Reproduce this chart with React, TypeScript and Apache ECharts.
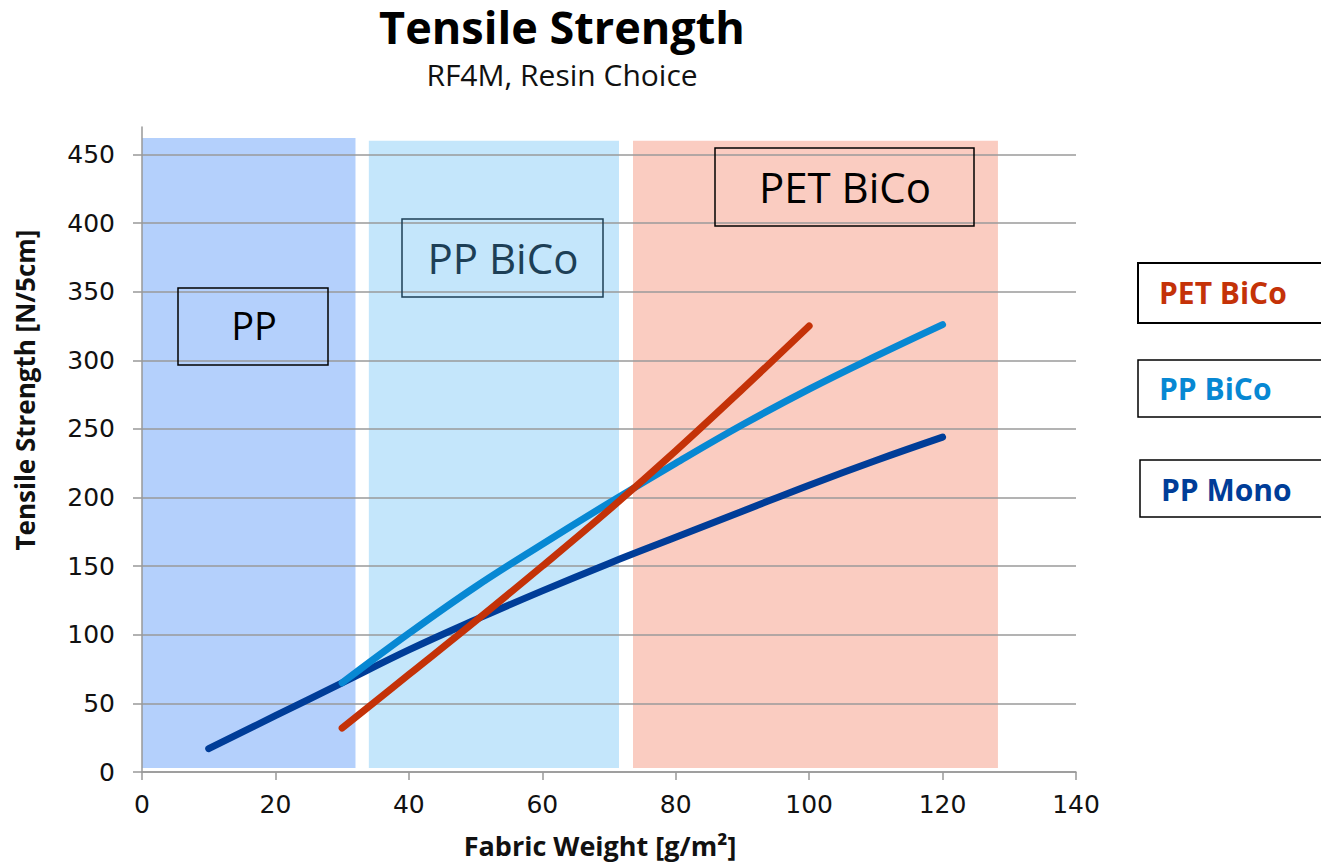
import React, { useEffect, useRef } from "react";
import * as echarts from "echarts";

// ---- data ----
const yTickValues = [0, 50, 100, 150, 200, 250, 300, 350, 400, 450];

const ppMonoX = [10, 20, 30, 40, 50, 60, 70, 80, 90, 100, 110, 120];
const ppMonoY = [17, 41, 65, 89, 111, 132, 152, 171, 190, 209, 227, 244];

const ppBicoX = [30, 40, 50, 60, 70, 80, 90, 100, 110, 120];
const ppBicoY = [65, 101, 135, 166, 196, 225, 253, 279, 303, 326];

const petBicoX = [30, 40, 50, 60, 70, 80, 90, 100];
const petBicoY = [32, 71, 110, 150, 191, 234, 279, 325];

const bandNames = ["PP", "PP BiCo", "PET BiCo"];
const bandStart = [0, 34, 73.6];
const bandEnd = [32, 71.5, 128.3];
const bandTop = [462, 460, 460];
const bandBottom = [3, 3, 3];
const bandColors = ["#B4D0FC", "#C4E6FB", "#FACCC1"];

const seriesNames = ["PP Mono", "PP BiCo", "PET BiCo"];
const seriesColors = ["#003D98", "#0788D3", "#C43208"];

const zip = (xs: number[], ys: number[]) => xs.map((x, i) => [x, ys[i]]);

export default function App() {
  const ref = useRef<HTMLDivElement>(null);

  useEffect(() => {
    if (!ref.current) return;
    const chart = echarts.init(ref.current, undefined, { renderer: "svg" });

    const openSans = "'Open Sans', 'Noto Sans', sans-serif";
    const tickFont = "'DejaVu Sans', Verdana, sans-serif";

    const boxLabel = (
      text: string,
      x: number,
      y: number,
      w: number,
      h: number,
      tx: number,
      ty: number,
      size: number,
      color: string,
      stroke: string,
      weight: string,
      align: string,
      lw: number
    ) => ({
      type: "group",
      children: [
        {
          type: "rect",
          shape: { x, y, width: w, height: h },
          style: { fill: "none", stroke, lineWidth: lw },
          z: 100,
        },
        {
          type: "text",
          x: tx,
          y: ty,
          z: 101,
          style: {
            text,
            fill: color,
            fontSize: size,
            fontFamily: openSans,
            fontWeight: weight,
            align,
            verticalAlign: "middle",
          },
        },
      ],
    });

    const bandData = bandNames.map((n, i) => [bandStart[i], bandEnd[i], bandTop[i], bandBottom[i], i]);

    const lineSeries = (i: number, xs: number[], ys: number[], z: number) => ({
      type: "line",
      name: seriesNames[i],
      data: zip(xs, ys),
      smooth: 0.4,
      showSymbol: false,
      z,
      lineStyle: { color: seriesColors[i], width: 7, cap: "round", join: "round" },
      itemStyle: { color: seriesColors[i] },
    });

    chart.setOption({
      animation: false,
      backgroundColor: "#ffffff",
      title: {
        text: "Tensile Strength",
        subtext: "RF4M, Resin Choice",
        left: 562,
        top: 4,
        textAlign: "center",
        padding: 0,
        itemGap: 10,
        textStyle: { fontFamily: openSans, fontWeight: "bold", fontSize: 45, color: "#000" },
        subtextStyle: { fontFamily: openSans, fontWeight: "normal", fontSize: 30, color: "#111" },
      },
      grid: { left: 142, right: 245, top: 127, bottom: 87, containLabel: false },
      xAxis: {
        type: "value",
        min: 0,
        max: 140,
        interval: 20,
        name: "Fabric Weight [g/m²]",
        nameLocation: "middle",
        nameGap: 60,
        nameTextStyle: {
          fontFamily: openSans,
          fontWeight: "bold",
          fontSize: 27,
          color: "#111",
          padding: [0, 18, 0, 0],
        },
        axisLine: { show: true, onZero: false, lineStyle: { color: "#999", width: 1.5 } },
        axisTick: { show: true, inside: false, length: 8, lineStyle: { color: "#999", width: 1.5 } },
        axisLabel: { fontFamily: tickFont, fontSize: 25, color: "#111", margin: 20 },
        splitLine: { show: false },
      },
      yAxis: {
        type: "value",
        min: 0,
        max: 470,
        interval: 50,
        axisLine: { show: true, lineStyle: { color: "#999", width: 1.5 } },
        axisTick: {
          show: true,
          length: 9,
          customValues: yTickValues,
          lineStyle: { color: "#999", width: 1.5 },
        },
        axisLabel: {
          customValues: yTickValues,
          fontFamily: tickFont,
          fontSize: 25,
          color: "#111",
          margin: 27,
        },
        splitLine: { show: true, lineStyle: { color: "#9a9a9a", width: 1.5 } },
      },
      series: [
        {
          type: "custom",
          name: "bands",
          z: -1,
          silent: true,
          data: bandData,
          encode: { x: [0, 1], y: [2, 3] },
          renderItem: (params: any, api: any) => {
            const p0 = api.coord([api.value(0), api.value(2)]);
            const p1 = api.coord([api.value(1), api.value(3)]);
            const idx = api.value(4);
            return {
              type: "rect",
              shape: { x: p0[0], y: p0[1], width: p1[0] - p0[0], height: p1[1] - p0[1] },
              style: { fill: bandColors[idx] },
            };
          },
        },
        lineSeries(0, ppMonoX, ppMonoY, 3),
        lineSeries(1, ppBicoX, ppBicoY, 4),
        lineSeries(2, petBicoX, petBicoY, 5),
      ],
      graphic: [
        {
          type: "text",
          x: 25,
          y: 390,
          rotation: Math.PI / 2,
          style: {
            text: "Tensile Strength [N/5cm]",
            fill: "#111",
            fontSize: 26,
            fontFamily: openSans,
            fontWeight: "bold",
            align: "center",
            verticalAlign: "middle",
          },
        },
        boxLabel("PP", 178, 288, 150, 77, 254, 325, 38, "#000", "#000", "normal", "center", 1.5),
        boxLabel("PP BiCo", 402, 219, 201, 78, 503, 257, 42, "#1d3f56", "#1d3f56", "normal", "center", 1.5),
        boxLabel("PET BiCo", 715, 148, 259, 78, 845, 186, 42, "#000", "#000", "normal", "center", 1.5),
        boxLabel(seriesNames[2], 1138, 263, 200, 60, 1159, 292, 30, seriesColors[2], "#000", "bold", "left", 2),
        boxLabel(seriesNames[1], 1138, 360, 200, 57, 1159, 388, 30, seriesColors[1], "#000", "bold", "left", 1.5),
        boxLabel(seriesNames[0], 1140, 460, 200, 57, 1161, 489, 30, seriesColors[0], "#000", "bold", "left", 1.5),
      ],
    });

    return () => chart.dispose();
  }, []);

  return (
    <div
      ref={ref}
      style={{ position: "fixed", left: 0, top: 0, width: 1321, height: 864, background: "#fff" }}
    />
  );
}
